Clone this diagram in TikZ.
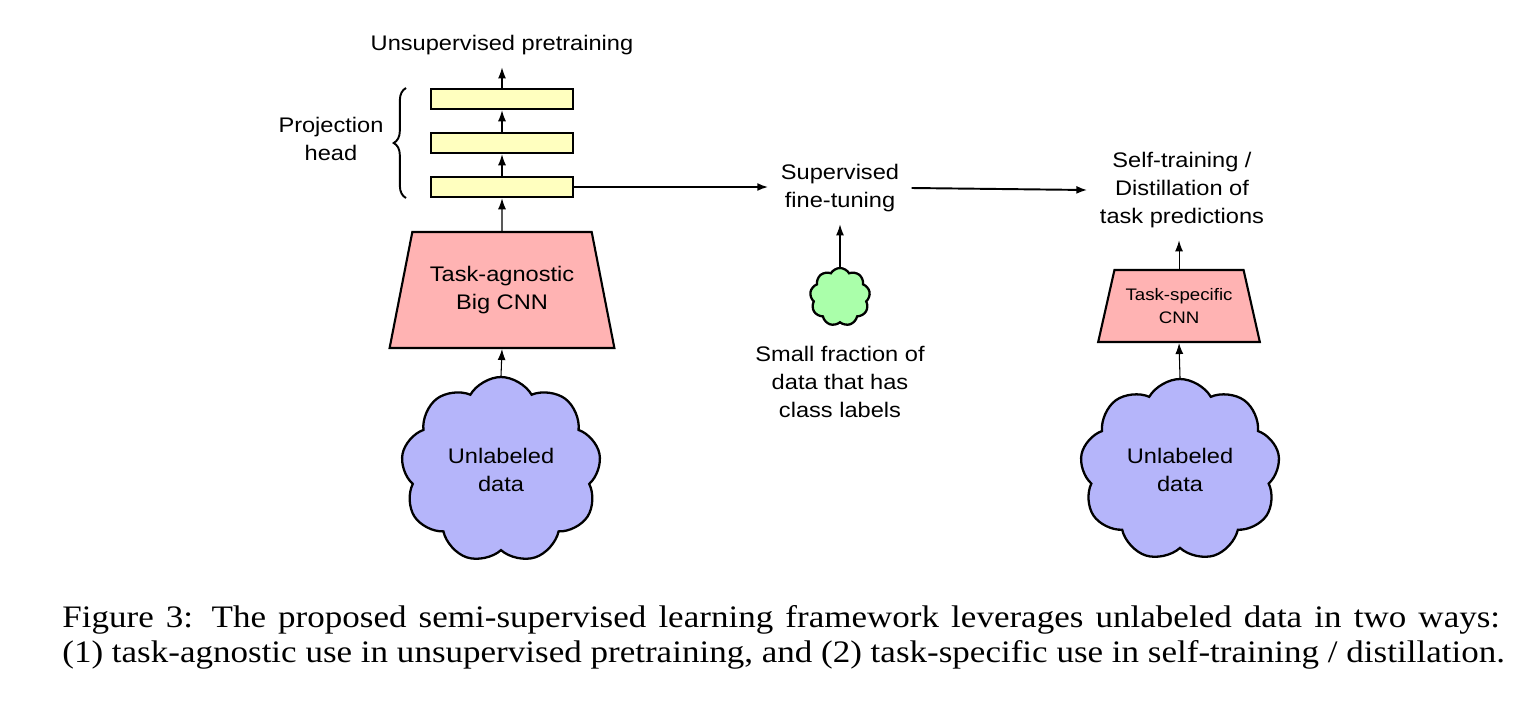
\documentclass[tikz,border=0pt]{standalone}
\usepackage{fontspec}
\setmainfont{Liberation Sans}[FakeStretch=1.12]
\newfontfamily\captionfont{Liberation Serif}[FakeStretch=1.12]
\usepackage{tikz}
\usetikzlibrary{arrows.meta,positioning,shapes.geometric,shapes.symbols,decorations.pathreplacing}

\definecolor{layeryellow}{RGB}{255,255,191}
\definecolor{cnnpink}{RGB}{255,179,179}
\definecolor{datablue}{RGB}{181,181,250}
\definecolor{labelgreen}{RGB}{170,255,170}

\begin{document}
\begin{tikzpicture}[>={Latex[length=2.2mm,width=1.6mm]}, x=0.02cm, y=-0.02cm,
  every node/.style={font=\fontsize{12}{15.9}\selectfont},
  layer/.style={draw, line width=1.5pt, fill=layeryellow, minimum width=2.84cm, minimum height=0.4cm, inner sep=0},
  cnn/.style={trapezium, trapezium stretches=true, trapezium angle=69, draw, line width=1.2pt, fill=cnnpink, inner sep=0, align=center},
  datacloud/.style={cloud, cloud puffs=9, cloud puff arc=120, aspect=1.1, draw, line width=1.3pt, inner sep=0, align=center},
  txt/.style={align=center, inner sep=7pt},
  flow/.style={->, semithick}]
  \useasboundingbox (0,0) rectangle (1533,717);
  % projection head
  \node[layer] (proj3) at (502,99) {};
  \node[layer] (proj2) at (502,143) {};
  \node[layer] (proj1) at (502,187) {};
  \node[txt] (pretrain) at (502,45) {Unsupervised pretraining};
  \node[txt] (projlabel) at (331,139) {Projection\\head};
  \coordinate (braceB) at (406,198);
  \coordinate (braceT) at (406,88);
  \draw[line width=1.1pt, decorate, decoration={brace, amplitude=7pt}] (braceB) -- (braceT);
  % left column
  \node[cnn, minimum width=4.5cm, minimum height=2.32cm] (bigcnn) at (502,290) {Task-agnostic\\Big CNN};
  \node[datacloud, fill=datablue, minimum width=4cm, minimum height=3.72cm] (data1) at (501,470) {Unlabeled\\data};
  % middle
  \node[txt] (finetune) at (840,188) {Supervised\\fine-tuning};
  \node[datacloud, fill=labelgreen, minimum width=1.2cm, minimum height=1.16cm] (labeled) at (840,297) {};
  \node[txt] (labeltext) at (840,382) {Small fraction of\\data that has\\class labels};
  % right column
  \node[txt] (selftrain) at (1182,190) {Self-training /\\Distillation of\\task predictions};
  \node[cnn, minimum width=3.24cm, minimum height=1.44cm, font=\fontsize{9.5}{13}\selectfont] (smallcnn) at (1179,306) {Task-specific\\CNN};
  \node[datacloud, fill=datablue, minimum width=4cm, minimum height=3.64cm] (data2) at (1180,470) {Unlabeled\\data};
  % connectors
  \draw[flow] (data1.north) -- (bigcnn.south);
  \draw[flow] (bigcnn.north) -- (proj1.south);
  \draw[flow] (proj1.north) -- (proj2.south);
  \draw[flow] (proj2.north) -- (proj3.south);
  \draw[flow] (proj3.north) -- (pretrain.south);
  \draw[->, line width=1.1pt] (proj1.east) -- (finetune.west |- proj1.east);
  \draw[->, line width=1.1pt] (finetune.east) -- (selftrain.west);
  \draw[flow] (labeled.north) -- (finetune.south);
  \draw[flow] (smallcnn.north) -- (smallcnn.north |- selftrain.south);
  \draw[flow] (data2.north) -- (smallcnn.south);
  % caption
  \node[anchor=north west, align=left, inner sep=0, font=\captionfont\fontsize{17.8}{19.8}\selectfont] (caption) at (62,605)
    {\makebox[28.76cm][s]{Figure 3: The proposed semi-supervised learning framework leverages unlabeled data in two ways:}\\(1) task-agnostic use in unsupervised pretraining, and (2) task-specific use in self-training / distillation.};
\end{tikzpicture}
\end{document}
